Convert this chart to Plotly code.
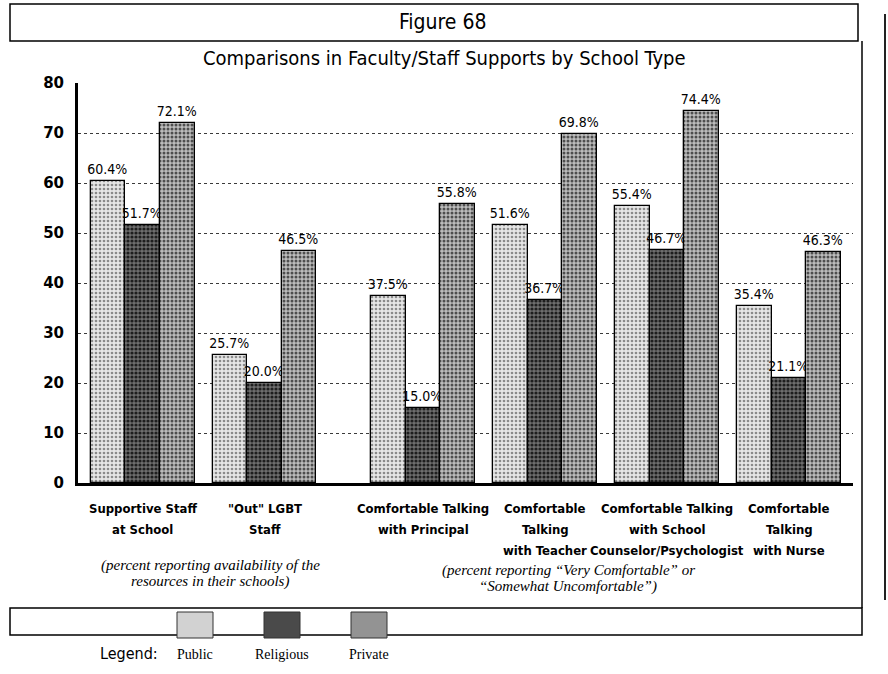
import plotly.graph_objects as go

# ---- data -------------------------------------------------------------
categories = [
    "Supportive Staff<br>at School",
    "\"Out\" LGBT<br>Staff",
    "Comfortable Talking<br>with Principal",
    "Comfortable<br>Talking<br>with Teacher",
    "Comfortable Talking<br>with School<br>Counselor/Psychologist",
    "Comfortable<br>Talking<br>with Nurse",
]
public = [60.4, 25.7, 37.5, 51.6, 55.4, 35.4]
religious = [51.7, 20.0, 15.0, 36.7, 46.7, 21.1]
private = [72.1, 46.5, 55.8, 69.8, 74.4, 46.3]
y_ticks = [0, 10, 20, 30, 40, 50, 60, 70, 80]
series_names = ["Public", "Religious", "Private"]

# ---- layout geometry (pixels of an 888 x 674 page) --------------------
W, H = 888, 674
L, R, T, B = 78, 853, 83, 483          # plot area edges
group_x = [0, 1, 2.3, 3.3, 4.3, 5.3]   # group centres (the two availability items sit apart)
bar_w = 0.284
x_range = [-0.529, 5.824]

COND = "DejaVu Sans Condensed, Liberation Sans Narrow, Arial Narrow, sans-serif"
SERIF = "Liberation Serif, DejaVu Serif, serif"


def fx(px):
    return (px - L) / (R - L)


def fy(py):
    return (B - py) / (B - T)


styles = [
    dict(bg="#e6e6e6", fg="#8a8a8a", sol=0.35, solid="#d2d2d2"),
    dict(bg="#6e6e6e", fg="#1e1e1e", sol=0.5, solid="#4a4a4a"),
    dict(bg="#bdbdbd", fg="#4e4e4e", sol=0.45, solid="#939393"),
]

fig = go.Figure()
for i, (name, vals) in enumerate(zip(series_names, [public, religious, private])):
    st = styles[i]
    fig.add_trace(go.Bar(
        x=group_x,
        y=vals,
        name=name,
        width=bar_w,
        offset=-1.5 * bar_w + i * bar_w,
        marker=dict(
            color=st["bg"],
            line=dict(color="black", width=1.3),
            pattern=dict(shape=".", fgcolor=st["fg"], bgcolor=st["bg"],
                         size=4, solidity=st["sol"], fillmode="replace"),
        ),
        text=[f"{v:.1f}%" for v in vals],
        textposition="outside",
        textfont=dict(family=COND, size=14, color="black"),
        constraintext="none",
        cliponaxis=False,
        showlegend=False,
    ))

fig.update_layout(
    width=W, height=H,
    margin=dict(l=L, r=W - R, t=T, b=H - B),
    paper_bgcolor="white", plot_bgcolor="white",
    bargap=0, bargroupgap=0,
    font=dict(family=COND, color="black"),
    xaxis=dict(
        range=x_range, showgrid=False, zeroline=False,
        showline=True, linecolor="black", linewidth=2.5,
        showticklabels=False, ticks="",
    ),
    yaxis=dict(
        range=[0, 80], tickvals=y_ticks, ticks="",
        showgrid=True, gridcolor="#3a3a3a", griddash="dot", gridwidth=1,
        zeroline=False, showline=True, linecolor="black", linewidth=3,
        tickfont=dict(family="DejaVu Sans, sans-serif", size=15, color="black", weight="bold"),
        ticklabelstandoff=8,
    ),
)

ann = []


def text_at(px, py, text, font, xref="paper", x=None):
    ann.append(dict(x=fx(px) if x is None else x, y=fy(py), xref=xref, yref="paper",
                    text=text, showarrow=False, xanchor="center", yanchor="middle",
                    font=font))


# category labels under each group, one line at a time
label_rows = [508, 529, 550]
for gx, lab in zip(group_x, categories):
    for row, part in zip(label_rows, lab.split("<br>")):
        text_at(None, row, part, dict(family=COND, size=13, weight="bold"), xref="x", x=gx)

# headings
text_at(443, 22, "Figure 68", dict(family=COND, size=21))
text_at(444, 58, "Comparisons in Faculty/Staff Supports by School Type",
        dict(family=COND, size=20))

# explanatory notes, one line at a time
note_font = dict(family=SERIF, size=15, style="italic")
text_at(210, 565, "(percent reporting availability of the", note_font)
text_at(210, 581, "resources in their schools)", note_font)
text_at(568, 570, "(percent reporting \u201cVery Comfortable\u201d or", note_font)
text_at(568, 586, "\u201cSomewhat Uncomfortable\u201d)", note_font)

# legend
text_at(129, 653, "Legend:", dict(family=COND, size=16))
legend_x = [195, 282, 369]
for lx, name in zip(legend_x, series_names):
    text_at(lx, 654, name, dict(family=SERIF, size=14))

shapes = []


def rect(x0, y0, x1, y1, **kw):
    shapes.append(dict(type="rect", xref="paper", yref="paper",
                       x0=fx(x0), x1=fx(x1), y0=fy(y1), y1=fy(y0), **kw))


def line(x0, y0, x1, y1, width=1.5, color="black"):
    shapes.append(dict(type="line", xref="paper", yref="paper",
                       x0=fx(x0), x1=fx(x1), y0=fy(y0), y1=fy(y1),
                       line=dict(color=color, width=width)))


# figure-number box, chart frame and legend strip
rect(10, 4, 858, 41, line=dict(color="black", width=1.5), fillcolor="rgba(0,0,0,0)")
line(862, 41, 862, 608)
rect(10, 608, 862, 635, line=dict(color="black", width=1.5), fillcolor="white")
line(885, 14, 885, 600, width=2, color="#222")

for lx, st in zip(legend_x, styles):
    rect(lx - 18, 612, lx + 18, 638, line=dict(color="#333", width=1), fillcolor=st["solid"])

fig.update_layout(annotations=ann, shapes=shapes)

fig.write_html("out.html")
